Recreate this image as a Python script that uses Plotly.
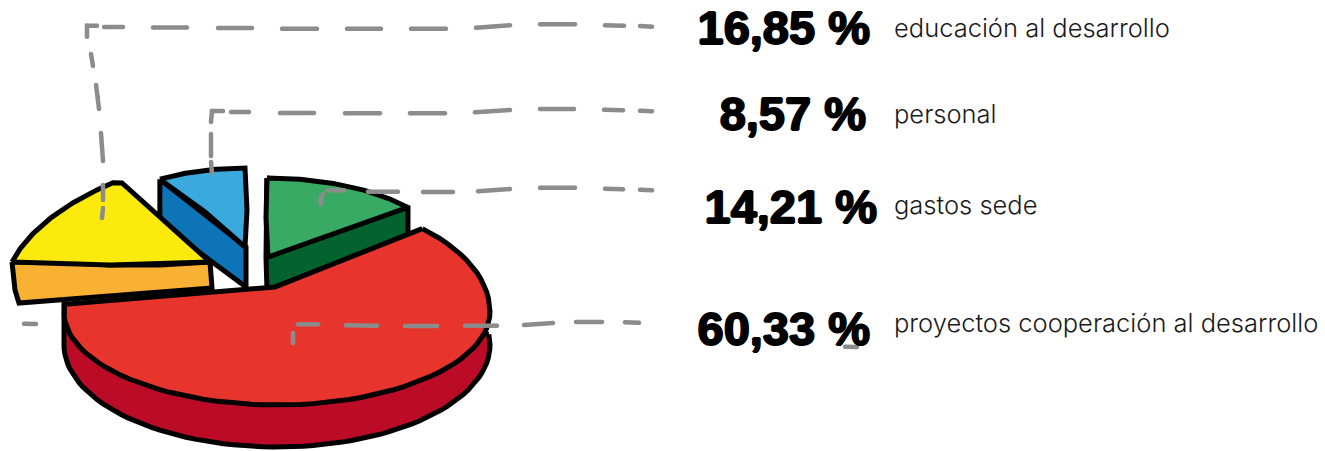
import numpy as np
import plotly.graph_objects as go

# --- data ---
categories = ["educación al desarrollo", "personal", "gastos sede", "proyectos cooperación al desarrollo"]
shares = [16.85, 8.57, 14.21, 60.33]
share_labels = ["16,85 %", "8,57 %", "14,21 %", "60,33 %"]

# --- styles ---
TOP = ["#FCEA0D", "#3AA9DE", "#39AA63", "#E7352D"]
SIDE = ["#F8B133", "#0D74B8", "#03632E", "#BC0B27"]
INK = "#000000"
GREY = "#8C8C8C"
DEG = 360 / 100


def arc(cx, cy, rx, ry_top, ry_bot, a0, a1, n=70):
    t = np.radians(np.linspace(a0, a1, n))
    c = np.cos(t)
    return cx + rx * np.sin(t), cy - np.where(c > 0, ry_top, ry_bot) * c


fig = go.Figure()


def poly(x, y, color):
    fig.add_trace(go.Scatter(x=list(x) + [x[0]], y=list(y) + [y[0]], mode="lines", fill="toself",
                             fillcolor=color, line=dict(color=INK, width=5), hoverinfo="skip", showlegend=False))


# green slice (gastos sede)
g = shares[2] * DEG
ax, ay = arc(267, 257, 181, 79, 79, 0, g)
poly([ax[0], ax[0] - 1, 267, ax[-1], ax[-1]], [ay[0], ay[0] + 80, 290, ay[-1] + 28, ay[-1]], SIDE[2])
poly(list(ax) + [268, 266], list(ay) + [257, 218], TOP[2])

# blue slice (personal)
b = shares[1] * DEG
ax, ay = arc(245, 247, 166, 79, 79, -b, 0)
poly([ax[0], 246, 246, ax[0]], [ay[0], 247, 287, ay[0] + 44], SIDE[1])
poly(list(ax) + [247, 245, 205], list(ay) + [210, 247, 212], TOP[1])

# red slice (proyectos)
r = shares[3] * DEG * 1.063
s0 = 43
sx, sy = arc(277, 345, 213, 102, 102, 84, 270)
poly(list(sx) + [64], list(sy) + [305], SIDE[3])
ax, ay = arc(277, 312, 213, 114, 93, s0, s0 + r)
poly(list(ax) + [275], list(ay) + [287], TOP[3])

# yellow slice (educación): the rim is flatter than a true ellipse, so it is eased towards its chord
y_ = shares[0] * DEG
ax, ay = arc(210, 262, 198, 91, 91, 270, 270 + y_)
ax = 0.55 * ax + 0.45 * np.linspace(ax[0], ax[-1], len(ax))
ay = 0.55 * ay + 0.45 * np.linspace(ay[0], ay[-1], len(ay))
poly([12, 60, 110, 160, 210, 212, 19, 15], [262, 262, 265, 265, 262, 288, 303, 290], SIDE[0])
poly(list(ax) + [122, 210, 110], list(ay) + [183, 262, 265], TOP[0])

# leader line strokes, one list per hand-drawn dash
strokes = [
    # educación
    [(97, 25.7), (87, 25.7), (87, 36.7)], [(104, 27), (123, 27)], [(153, 27.5), (187, 27.5)], [(218, 28), (252, 28)],
    [(282, 28.7), (317, 28.7)], [(347, 28.7), (381, 28.7)], [(411, 28.7), (446, 28.7)], [(476, 27.7), (510, 25.3)],
    [(540, 24.3), (575, 24.3)], [(605, 25.3), (624, 25.7)], [(640, 26), (652, 26.7)],
    [(91, 54), (93, 66)], [(96, 85), (98, 97), (99, 109)], [(101, 133), (103, 161)], [(103, 185), (103, 200)], [(103, 208), (102, 218)],
    # personal
    [(223, 111), (212, 111), (211, 122)], [(231, 112), (249, 112)], [(280, 113), (314, 113)], [(345, 113.3), (380, 113.3)],
    [(410, 113.3), (445, 113.3)], [(475, 112.3), (510, 110)], [(540, 109), (574, 109)], [(604, 109.7), (623, 110.3)],
    [(640, 110.7), (652, 111.3)], [(211, 134), (211, 156)], [(211, 162), (212, 173)],
    # gastos sede
    [(320.7, 204), (321, 197), (323, 194)], [(328, 190.3), (344, 190.3)], [(368, 191.7), (398, 191.7)], [(423, 192), (453, 192)],
    [(478, 191.3), (510, 189)], [(540, 187.7), (575, 187.7)], [(605, 188.7), (623, 189.3)], [(640, 189.7), (652, 190.3)],
    # proyectos
    [(293, 333), (293, 343)], [(298, 324.3), (318, 324.3)], [(346, 325.3), (377, 325.7)], [(405, 326), (437, 326)], [(465, 325.7), (497, 325.7)],
    [(524, 325), (553, 323)], [(576, 322), (602, 322)], [(625, 322.3), (639, 322.7)],
    [(24, 323.7), (36, 324)], [(845, 346.7), (857, 347)],
]
lx, ly = [], []
for s in strokes:
    lx += [p[0] for p in s] + [None]
    ly += [p[1] for p in s] + [None]
fig.add_trace(go.Scatter(x=lx, y=ly, mode="lines+markers", line=dict(color=GREY, width=4.5),
                         marker=dict(color=GREY, size=4.5, line=dict(width=0)), hoverinfo="skip", showlegend=False))

# labels
value_x = [870, 866, 877, 870]
value_y = [32, 118, 211, 333]
label_y = [31, 117, 208, 326]
fig.add_trace(go.Scatter(x=value_x, y=value_y, mode="text", text=share_labels,
                         textposition="middle left",
                         textfont=dict(family="Liberation Sans", size=47, color="#000", weight=700,
                                       shadow="1px 0 0 #000,-1px 0 0 #000,0 1px 0 #000,0 -1px 0 #000"),
                         hoverinfo="skip", showlegend=False))
fig.add_trace(go.Scatter(x=[894] * 4, y=label_y, mode="text", text=categories, textposition="middle right",
                         textfont=dict(family="Inter", size=25.5, color="#1a1a1a", weight=300),
                         hoverinfo="skip", showlegend=False))

fig.update_xaxes(range=[0, 1325], visible=False, fixedrange=True)
fig.update_yaxes(range=[451, 0], visible=False, fixedrange=True)
fig.update_layout(width=1325, height=451, margin=dict(l=0, r=0, t=0, b=0), plot_bgcolor="white", paper_bgcolor="white")
fig.write_html("out.html", config={"displayModeBar": False},
               post_script="document.body.style.margin='0';document.body.style.overflow='hidden';")
